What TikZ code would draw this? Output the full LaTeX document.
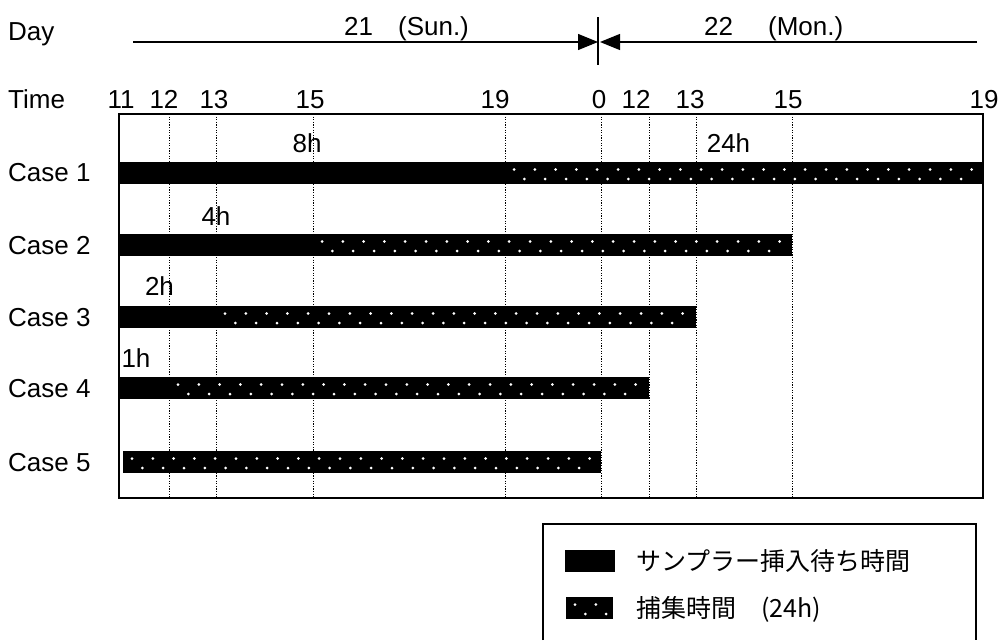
\documentclass[tikz,border=0pt]{standalone}
\usepackage{fontspec}
\setmainfont{Liberation Sans}
\newfontfamily\cjk{Noto Sans CJK JP}
\usetikzlibrary{arrows.meta}
\newcommand\waitbar[3]{\fill[black] (#1,#3) rectangle (#2,#3+22);}
\newcommand\capbar[3]{%
  \fill[black] (#1,#3) rectangle (#2,#3+22);
  \pgfmathtruncatemacro\nA{(#2-#1-14)/20.8}%
  \foreach \k in {0,...,\nA} \fill[white] ({#1+9+\k*20.8},{#3+7.5}) circle (1.5pt);
  \pgfmathtruncatemacro\nB{(#2-#1-24)/20.8}%
  \foreach \k in {0,...,\nB} \fill[white] ({#1+19.4+\k*20.8},{#3+17}) circle (1.5pt);
}
\begin{document}
\begin{tikzpicture}[x=1pt,y=-1pt,
  lbl/.style={inner sep=0pt, anchor=base west, font=\fontsize{26}{28}\selectfont},
  num/.style={inner sep=0pt, anchor=base, font=\fontsize{26}{28}\selectfont},
  leg/.style={inner sep=0pt, anchor=base west, font=\cjk\fontsize{25}{27}\selectfont},
  gridline/.style={line width=0.9pt, dash pattern=on 1.2pt off 1.4pt},
  frame/.style={line width=1.4pt},
  dayline/.style={line width=1.2pt, -{Triangle[length=20pt,width=16pt]}},
]
\useasboundingbox (0,0) rectangle (1001,640);
\fill[white] (0,0) rectangle (1001,640);

% Day row
\node[lbl] (day) at (8,40) {Day};
\node[lbl] (sun) at (344,35) {21\hspace{25pt}(Sun.)};
\node[lbl] (mon) at (704,35) {22\hspace{35pt}(Mon.)};
\coordinate (dL) at (133,42);
\coordinate (dM) at (598,42);
\coordinate (dM2) at (600,42);
\coordinate (dR) at (977,42);
\coordinate (tkT) at (598,17);
\coordinate (tkB) at (598,65);
\draw[dayline] (dL) -- (dM);
\draw[dayline] (dR) -- (dM2);
\draw[line width=1.2pt] (tkT) -- (tkB);

% Time row
\node[lbl] (time) at (8,108) {Time};
\node[num] (t11) at (121,108) {11};
\node[num] (t12) at (164,108) {12};
\node[num] (t13) at (214,108) {13};
\node[num] (t15) at (310,108) {15};
\node[num] (t19) at (495,108) {19};
\node[num] (t0)  at (599,108) {0};
\node[num] (t12b) at (636,108) {12};
\node[num] (t13b) at (690,108) {13};
\node[num] (t15b) at (788,108) {15};
\node[num] (t19b) at (984,108) {19};

% grid lines
\foreach \x in {169,216,313,505,601,649,696,792}
  \draw[gridline] (\x,114) -- (\x,498);

% bars
\waitbar{119}{505}{162}
\capbar{505}{983}{162}
\waitbar{119}{313}{234}
\capbar{313}{792}{234}
\waitbar{119}{216}{306}
\capbar{216}{696}{306}
\waitbar{119}{169}{377}
\capbar{169}{649}{377}
\capbar{123}{601}{451}

% frame
\coordinate (frTL) at (119,114);
\coordinate (frBR) at (983,498);
\draw[frame] (frTL) rectangle (frBR);

% case labels
\node[lbl] (c1) at (8,181) {Case 1};
\node[lbl] (c2) at (8,254) {Case 2};
\node[lbl] (c3) at (8,326) {Case 3};
\node[lbl] (c4) at (8,397) {Case 4};
\node[lbl] (c5) at (8,471) {Case 5};

% duration labels
\node[num] (h8) at (307,152) {8h};
\node[num] (h24) at (728.5,152) {24h};
\node[num] (h4) at (216,225) {4h};
\node[num] (h2) at (159.5,295) {2h};
\node[num] (h1) at (136,367) {1h};

% legend
\draw[frame] (543,640) -- (543,524) -- (976,524) -- (976,640);
\waitbar{565}{615}{550}
\capbar{566}{613}{597}
\node[leg] (leg1) at (636,570) {サンプラー挿入待ち時間};
\node[leg] (leg2) at (636,617) {捕集時間　(24h)};
\end{tikzpicture}
\end{document}
